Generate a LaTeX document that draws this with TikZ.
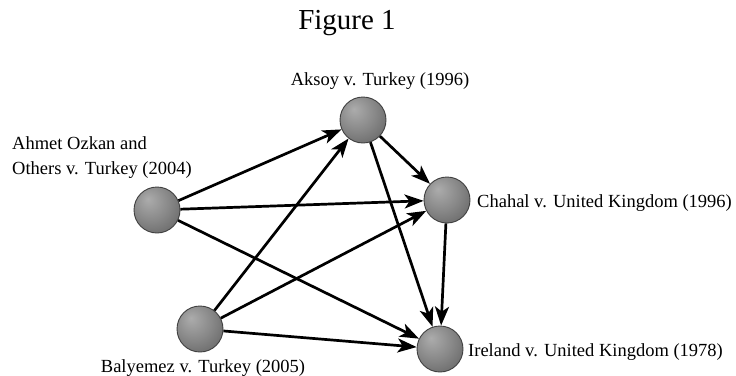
\documentclass[tikz,border=0pt]{standalone}
\usepackage{fontspec}
\setmainfont{Liberation Serif}
\usetikzlibrary{arrows.meta,shapes}
\definecolor{spherelight}{RGB}{172,172,172}
\definecolor{spheremid}{RGB}{136,136,136}
\definecolor{spheredark}{RGB}{78,78,78}
\pgfdeclareradialshading{sphere}{\pgfpoint{-10bp}{12bp}}{%
  color(0bp)=(spherelight); color(20bp)=(spheremid);
  color(50bp)=(spheredark); color(66bp)=(spheredark)}

\begin{document}
\begin{tikzpicture}[
    x=1pt, y=-1pt,
    ball/.style={circle, shading=sphere, draw=black!75,
                 line width=0.9pt, minimum size=46pt, inner sep=0pt},
    lbl/.style={inner sep=0pt, font=\fontsize{18.5}{25}\selectfont},
    arr/.style={-{Stealth[length=19pt,width=14pt,inset=5pt]}, line width=2.7pt, black}
]
\useasboundingbox (0,0) rectangle (736,375);

\node[font=\fontsize{29}{32}\selectfont] (title) at (347,23) {Figure 1};

\node[ball] (aksoy)    at (363,120) {};
\node[ball] (ahmet)    at (157,210) {};
\node[ball] (chahal)   at (447,200) {};
\node[ball] (balyemez) at (200,329) {};
\node[ball] (ireland)  at (440,349) {};

\node[lbl] (aksoylbl)    at (380,81)  {Aksoy v. Turkey (1996)};
\node[lbl, anchor=west, align=left] (ahmetlbl) at (12,157.5) {Ahmet Ozkan and\\Others v. Turkey (2004)};
\node[lbl, anchor=west] (chahallbl)  at (477,203) {Chahal v. United Kingdom (1996)};
\node[lbl, anchor=west] (irelandlbl) at (468,352) {Ireland v. United Kingdom (1978)};
\node[lbl] (balyemezlbl) at (203,368) {Balyemez v. Turkey (2005)};

\draw[arr] (ahmet) -- (aksoy);
\draw[arr] (ahmet) -- (chahal);
\draw[arr] (ahmet) -- (ireland);
\draw[arr] (balyemez) -- (aksoy);
\draw[arr] (balyemez) -- (chahal);
\draw[arr] (balyemez) -- (ireland);
\draw[arr] (aksoy) -- (chahal);
\draw[arr] (aksoy) -- (ireland);
\draw[arr] (chahal) -- (ireland);
\end{tikzpicture}
\end{document}
